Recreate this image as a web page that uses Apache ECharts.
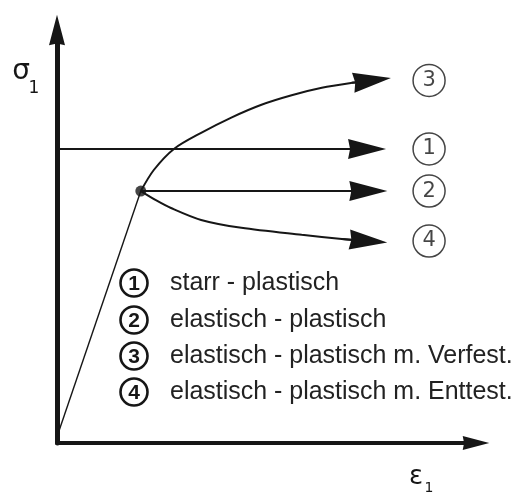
<!DOCTYPE html>
<html><head><meta charset="utf-8">
<script src="https://cdn.jsdelivr.net/npm/echarts@6/dist/echarts.min.js"></script>
<style>html,body{margin:0;padding:0;background:#fff}#c{width:528px;height:497px}</style>
</head><body><div id="c"></div>
<script>
// Stress-strain idealisations (sigma_1 over epsilon_1), values in axis units 0..100
const yieldPoint = [20, 61];
const elasticLine = [[0, 1.5], [20, 61]];
const curve1 = [[0, 71.2], [74.0, 71.2]];                      // starr - plastisch
const curve2 = [[20, 61], [74.3, 61]];                         // elastisch - plastisch
const curve3 = [[20, 61], [23.1, 66.1], [27.9, 71.2], [34.4, 75.1], [41.6, 78.8],
                [48.8, 81.9], [56.0, 84.2], [63.2, 86.0], [70.4, 87.2], [75.2, 87.8]]; // m. Verfestigung
const curve4 = [[20, 61], [23.6, 58.8], [27.2, 56.9], [34.4, 54.0], [44.0, 52.1],
                [58.4, 50.4], [68.0, 49.4], [74.3, 48.9]];     // m. Entfestigung
const tagX = 88.8;
const tagNumbers = ['1', '2', '3', '4'];
const legendNumbers = ['1', '2', '3', '4'];
const legendLabels = ['starr - plastisch', 'elastisch - plastisch',
  'elastisch - plastisch m. Verfest.', 'elastisch - plastisch m. Enttest.'];
const yAxisName = ['σ', '1'];
const xAxisName = ['ε', '1'];

const INK = '#161616';
const arrowPath = 'path://M10,0 L20,38 L10,36 L0,38 Z';
const curves = [curve1, curve2, curve3, curve4];

const chart = echarts.init(document.getElementById('c'));

const rowY = [283, 320, 356, 392];
const legendGraphics = [];
legendNumbers.forEach((n, i) => {
  legendGraphics.push({ type: 'circle', shape: { cx: 134, cy: rowY[i], r: 13.5 },
    style: { fill: 'none', stroke: INK, lineWidth: 2.6 } });
  legendGraphics.push({ type: 'text', x: 134, y: rowY[i] + 1,
    style: { text: n, fontSize: 21, fontWeight: 'bold', fontFamily: 'Liberation Sans',
      fill: INK, align: 'center', verticalAlign: 'middle' } });
  legendGraphics.push({ type: 'text', x: 170, y: rowY[i], scaleX: 0.96,
    style: { text: legendLabels[i], fontSize: 26, fontFamily: 'Liberation Sans',
      fill: '#222', align: 'left', verticalAlign: 'middle' } });
});

chart.setOption({
  animation: false,
  backgroundColor: '#fff',
  grid: { left: 57, right: 52, top: 30, bottom: 54 },
  xAxis: { type: 'value', min: 0, max: 100,
    axisLine: { show: true, onZero: false, symbol: ['none', arrowPath], symbolSize: [14, 34],
      lineStyle: { color: INK, width: 4 } },
    axisTick: { show: false }, axisLabel: { show: false }, splitLine: { show: false } },
  yAxis: { type: 'value', min: 0, max: 100,
    axisLine: { show: true, onZero: false, symbol: ['none', arrowPath], symbolSize: [16, 34],
      lineStyle: { color: INK, width: 5 } },
    axisTick: { show: false }, axisLabel: { show: false }, splitLine: { show: false } },
  graphic: [
    { type: 'text', x: 21, y: 72, style: { text: yAxisName[0], fontSize: 28, fontFamily: 'DejaVu Sans',
      fill: INK, align: 'center', verticalAlign: 'middle' } },
    { type: 'text', x: 34, y: 89, style: { text: yAxisName[1], fontSize: 17, fontFamily: 'DejaVu Sans',
      fill: INK, align: 'center', verticalAlign: 'middle' } },
    { type: 'text', x: 416, y: 477, style: { text: xAxisName[0], fontSize: 26, fontFamily: 'DejaVu Sans',
      fill: INK, align: 'center', verticalAlign: 'middle' } },
    { type: 'text', x: 429, y: 488, style: { text: xAxisName[1], fontSize: 14, fontFamily: 'DejaVu Sans',
      fill: INK, align: 'center', verticalAlign: 'middle' } },
    ...legendGraphics
  ],
  series: [
    { type: 'line', data: elasticLine, showSymbol: false, lineStyle: { color: INK, width: 1.4 }, z: 2 },
    ...curves.map((c, i) => ({ type: 'line', data: c, showSymbol: false, smooth: i >= 2 ? 0.3 : false,
      lineStyle: { color: INK, width: 2 }, z: 2 })),
    { type: 'lines', coordinateSystem: 'cartesian2d', z: 3,
      data: curves.map(c => ({ coords: c.slice(-2) })),
      symbol: ['none', arrowPath], symbolSize: [[1, 1], [20, 38]],
      lineStyle: { color: INK, width: 2, opacity: 1 } },
    { type: 'scatter', data: [yieldPoint], symbolSize: 11, itemStyle: { color: INK }, z: 5 },
    { type: 'scatter', z: 4, symbol: 'circle', symbolSize: 32,
      data: curves.map(c => [tagX, c[c.length - 1][1]]),
      itemStyle: { color: '#fff', borderColor: INK, borderWidth: 1.5 },
      label: { show: true, position: 'inside', formatter: p => tagNumbers[p.dataIndex],
        fontSize: 21, fontFamily: 'DejaVu Sans', color: INK } }
  ]
});
</script></body></html>
